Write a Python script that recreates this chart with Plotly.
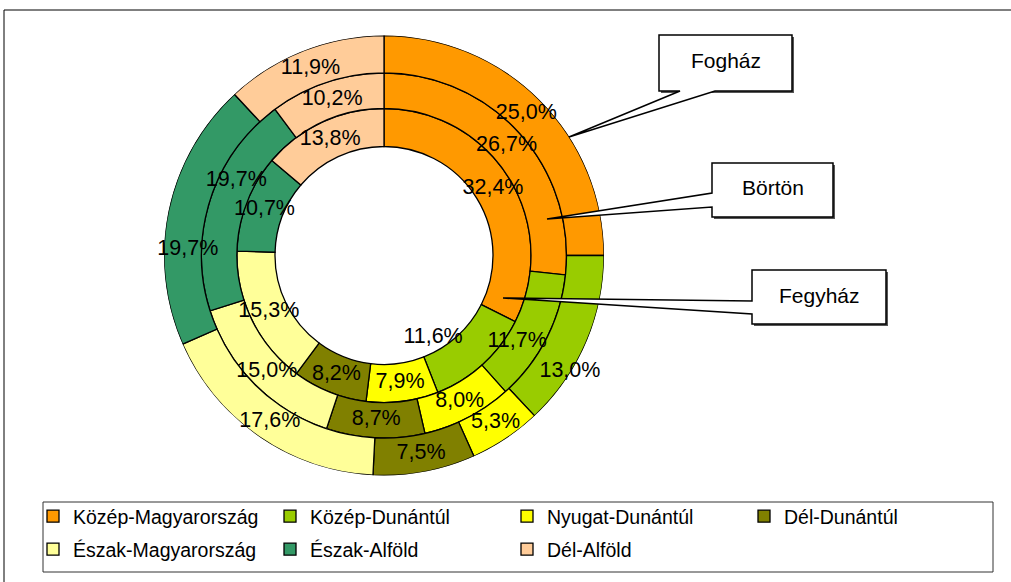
import plotly.graph_objects as go

# ---------------- data ----------------
regions = ["Közép-Magyarország", "Közép-Dunántúl", "Nyugat-Dunántúl", "Dél-Dunántúl",
           "Észak-Magyarország", "Észak-Alföld", "Dél-Alföld"]
colors = ["#FF9900", "#99CC00", "#FFFF00", "#808000", "#FFFF99", "#339966", "#FFCC99"]
rings = ["Fegyház", "Börtön", "Fogház"]          # inner -> outer
fegyhaz = [32.4, 11.6, 7.9, 8.2, 15.3, 10.7, 13.8]
borton = [26.7, 11.7, 8.0, 8.7, 15.0, 19.7, 10.2]
foghaz = [25.0, 13.0, 5.3, 7.5, 17.6, 19.7, 11.9]
values = [fegyhaz, borton, foghaz]

# ---------------- geometry (pixels) ----------------
W, H = 1011, 582
CX, CY, R_OUT = 384, 255.5, 220
ring_edges = [109, 147, 182.5, 220]
FONT = "Liberation Sans, Arial, sans-serif"


def px(x, y):
    return x / W, 1 - y / H


# label nudges (deg, px) for labels moved by hand in the original
nudge = {(0, 1): (11.6, -32), (1, 1): (5.8, -6), (1, 5): (9.2, 1),
         (2, 1): (8.6, 18), (2, 5): (-10.1, -5)}

# angular positions
thetas, widths = [], []
for vals in values:
    tot = sum(vals)
    cum = 0
    th, wd = [], []
    for v in vals:
        a = v / tot * 360
        th.append(cum + a / 2)
        wd.append(a)
        cum += a
    thetas.append(th)
    widths.append(wd)

fig = go.Figure()
for j, reg in enumerate(regions):
    fig.add_trace(go.Barpolar(
        name=reg,
        legend="legend" if j < 4 else "legend2",
        theta=[thetas[i][j] for i in range(3)],
        width=[widths[i][j] for i in range(3)],
        base=[ring_edges[i] for i in range(3)],
        r=[ring_edges[i + 1] - ring_edges[i] for i in range(3)],
        marker=dict(color=colors[j], line=dict(color="black", width=1.3)),
        hoverinfo="name",
    ))

lt, lr, ltxt = [], [], []
for i in range(3):
    mid = (ring_edges[i] + ring_edges[i + 1]) / 2
    for j in range(7):
        dt, dr = nudge.get((i, j), (0, 0))
        lt.append(thetas[i][j] + dt)
        lr.append(mid + dr)
        ltxt.append(f"{values[i][j]:.1f}%".replace(".", ","))
fig.add_trace(go.Scatterpolar(
    r=lr, theta=lt, text=ltxt, mode="text",
    textfont=dict(family=FONT, size=21.5, color="black"),
    showlegend=False, hoverinfo="skip"))

shapes = []
# outer frame (top and left edges visible)
x0, y0 = px(4, 10)
shapes.append(dict(type="line", xref="paper", yref="paper", x0=x0, y0=y0, x1=1.01, y1=y0,
                   line=dict(color="black", width=1)))
shapes.append(dict(type="line", xref="paper", yref="paper", x0=x0, y0=y0, x1=x0, y1=-0.01,
                   line=dict(color="black", width=1)))

# legend box
lx0, ly0 = px(43, 502)
lx1, ly1 = px(993, 572)
shapes.append(dict(type="rect", xref="paper", yref="paper", x0=lx0, y0=ly0, x1=lx1, y1=ly1,
                   line=dict(color="#333333", width=1), fillcolor="rgba(0,0,0,0)"))


def path(points, close=True):
    s = ""
    for k, (x, y) in enumerate(points):
        u, v = px(x, y)
        s += ("M" if k == 0 else "L") + f"{u:.5f},{v:.5f} "
    return s + ("Z" if close else "")


callouts = [
    # label, box (L, T, R, B), outline points
    ("Fogház", (659, 35, 792, 91),
     [(715, 91), (792, 91), (792, 35), (659, 35), (659, 91), (680, 91), (569, 137)]),
    ("Börtön", (712, 163, 833, 217),
     [(712, 193), (712, 163), (833, 163), (833, 217), (712, 217), (712, 207), (547, 219)]),
    ("Fegyház", (752, 270, 886, 324),
     [(752, 301), (752, 270), (886, 270), (886, 324), (752, 324), (752, 314), (503, 298)]),
]
annotations = []
for lab, (L, T, R, B), pts in callouts:
    shapes.append(dict(type="path", xref="paper", yref="paper",
                       path=path([(L + 2, T + 2), (R + 2, T + 2), (R + 2, B + 2), (L + 2, B + 2)]),
                       fillcolor="#555555", line=dict(width=0)))
    shapes.append(dict(type="path", xref="paper", yref="paper", path=path(pts),
                       fillcolor="white", line=dict(color="black", width=1.5)))
    ax, ay = px((L + R) / 2, (T + B) / 2 - 2)
    annotations.append(dict(x=ax, y=ay, xref="paper", yref="paper", text=lab, showarrow=False,
                            font=dict(family=FONT, size=21, color="black"),
                            xanchor="center", yanchor="middle"))

dx0, dy1 = px(CX - R_OUT, CY - R_OUT)
dx1, dy0 = px(CX + R_OUT, CY + R_OUT)
leg_x, leg1_y = px(33, 497)
_, leg2_y = px(33, 530)

legend_common = dict(orientation="h", xanchor="left", yanchor="top",
                     entrywidth=192, entrywidthmode="pixels",
                     font=dict(family=FONT, size=19.5, color="black"),
                     bgcolor="rgba(0,0,0,0)", borderwidth=0, traceorder="normal")

fig.update_layout(
    width=W, height=H,
    margin=dict(l=0, r=0, t=0, b=0),
    paper_bgcolor="white", plot_bgcolor="white",
    font=dict(family=FONT, color="black"),
    polar=dict(
        domain=dict(x=[dx0, dx1], y=[dy0, dy1]),
        bgcolor="rgba(0,0,0,0)",
        barmode="overlay",
        radialaxis=dict(visible=False, range=[0, R_OUT]),
        angularaxis=dict(visible=False, direction="clockwise", rotation=90),
    ),
    showlegend=True,
    legend=dict(x=leg_x, y=leg1_y, **legend_common),
    legend2=dict(x=leg_x, y=leg2_y, **legend_common),
    shapes=shapes,
    annotations=annotations,
)

fig.write_html("out.html", config={"displayModeBar": False},
               post_script="document.body.style.margin='0';")
